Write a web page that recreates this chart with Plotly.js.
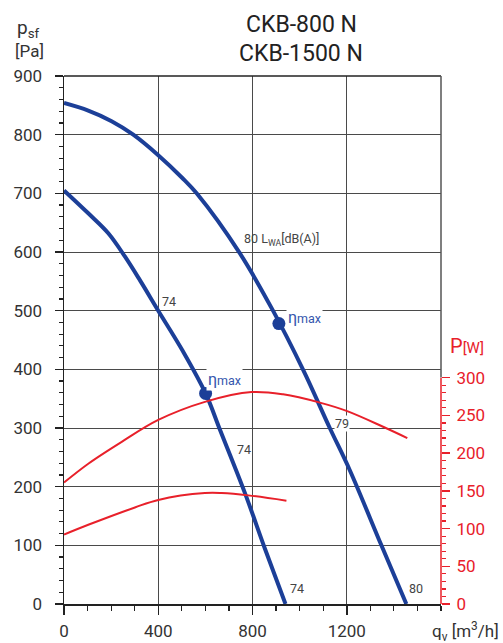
<!DOCTYPE html>
<html><head><meta charset="utf-8">
<script src="https://cdn.plot.ly/plotly-3.0.1.min.js"></script>
<style>html,body{margin:0;padding:0;background:#fff}#chart{width:503px;height:643px}</style>
</head><body><div id="chart"></div>
<script>
// CKB-1500 N pressure curve
const qUpper = [0, 103, 202, 294, 400, 500, 563, 746, 887, 1015, 1128, 1213, 1347, 1453];
const pUpper = [854, 841, 823, 800, 765, 727, 700, 598, 500, 399, 300, 228, 100, 0];
// CKB-800 N pressure curve
const qLower = [0, 103, 188, 259, 322, 400, 506, 601, 662, 768, 852, 940];
const pLower = [705, 666, 632, 592, 552, 500, 430, 359, 297, 189, 95, 0];
// efficiency maximum points
const etaQ = [601, 912];
const etaP = [359, 478];
// power curves [W]
const powUpperQ = [0, 103, 245, 400, 598, 796, 930, 1086, 1199, 1354, 1457];
const powUpperW = [161, 186, 215, 244, 268, 281, 278, 267, 256, 235, 220];
const powLowerQ = [0, 103, 301, 400, 598, 669, 782, 944];
const powLowerW = [92, 105, 128, 138, 147, 147, 144, 137];
// ticks
const xTicks = [0, 400, 800, 1200];
const yTicks = [0, 100, 200, 300, 400, 500, 600, 700, 800, 900];
const y2Ticks = [0, 50, 100, 150, 200, 250, 300];
const y2Minor = [];
for (let v = 0; v <= 300; v += 10) if (v % 50) y2Minor.push(v);

const BLUE = '#1c3f98', RED = '#e8202a', TXT = '#333333', GRID = '#4a4a4a';
const FONT = 'Roboto, "DejaVu Sans", sans-serif';

const traces = [
  {x: qUpper, y: pUpper, mode: 'lines', line: {color: BLUE, width: 4, shape: 'spline', smoothing: 1}, hoverinfo: 'skip'},
  {x: qLower, y: pLower, mode: 'lines', line: {color: BLUE, width: 4, shape: 'spline', smoothing: 1}, hoverinfo: 'skip'},
  {x: powUpperQ, y: powUpperW, yaxis: 'y2', mode: 'lines', line: {color: RED, width: 2, shape: 'spline', smoothing: 1}, hoverinfo: 'skip'},
  {x: powLowerQ, y: powLowerW, yaxis: 'y2', mode: 'lines', line: {color: RED, width: 2, shape: 'spline', smoothing: 1}, hoverinfo: 'skip'},
  {x: etaQ, y: etaP, mode: 'markers', marker: {color: BLUE, size: 13}, hoverinfo: 'skip'}
];

function ann(x, y, text, opts) {
  return Object.assign({x: x, y: y, xref: 'x', yref: 'y', text: text, showarrow: false,
    xanchor: 'left', yanchor: 'middle', font: {family: FONT, size: 12.5, color: '#444'}}, opts || {});
}
const annotations = [
  ann(756, 622, '80 L<sub>WA</sub>[dB(A)]', {font: {family: FONT, size: 12.5, color: '#444'}}),
  ann(408, 515, '74'),
  ann(727, 264, '74'),
  ann(952, 26, '74'),
  ann(1146, 308, '79', {bgcolor: '#fff', borderpad: 0}),
  ann(1457, 27, '80'),
  ann(944, 489, '<span style="font-size:16px">η</span>max', {bgcolor: '#fff', borderpad: 1, font: {family: FONT, size: 12.5, color: '#3556ad'}}),
  ann(603, 382, '<span style="font-size:16px">η</span>max', {bgcolor: '#fff', borderpad: 1, font: {family: FONT, size: 12.5, color: '#3556ad'}}),
  // titles
  {xref: 'paper', yref: 'paper', x: (301 - 64) / 377, y: (604 - 24) / 528, text: 'CKB-800 N', showarrow: false,
   xanchor: 'center', yanchor: 'middle', font: {family: FONT, size: 23, color: '#222'}},
  {xref: 'paper', yref: 'paper', x: (301 - 64) / 377, y: (604 - 53) / 528, text: 'CKB-1500 N', showarrow: false,
   xanchor: 'center', yanchor: 'middle', font: {family: FONT, size: 23, color: '#222'}},
  {xref: 'paper', yref: 'paper', x: (15 - 64) / 377, y: (604 - 28) / 528, text: 'p<sub>sf</sub>', showarrow: false,
   xanchor: 'left', yanchor: 'middle', font: {family: FONT, size: 19, color: TXT}},
  {xref: 'paper', yref: 'paper', x: (13 - 64) / 377, y: (604 - 51) / 528, text: '[Pa]', showarrow: false,
   xanchor: 'left', yanchor: 'middle', font: {family: FONT, size: 17, color: TXT}},
  {xref: 'paper', yref: 'paper', x: (501 - 64) / 377, y: (604 - 631) / 528, text: 'q<sub>v</sub> [m<sup>3</sup>/h]', showarrow: false,
   xanchor: 'right', yanchor: 'middle', font: {family: FONT, size: 17, color: TXT}},
  {xref: 'paper', yref: 'paper', x: (448 - 64) / 377, y: (604 - 346) / 528, text: 'P<span style="font-size:15px">[W]</span>', showarrow: false,
   xanchor: 'left', yanchor: 'middle', font: {family: FONT, size: 20, color: RED}}
];

const shapes = [
  {type: 'line', xref: 'paper', yref: 'paper', x0: 0, x1: 1, y0: 1, y1: 1, line: {color: '#222', width: 1.5}},
  {type: 'line', xref: 'paper', yref: 'paper', x0: 1, x1: 1, y0: 1, y1: (604 - 377.5) / 528, line: {color: '#555', width: 1.5}},
  {type: 'line', xref: 'paper', yref: 'y2', x0: 1, x1: 1, y0: 0, y1: 300, line: {color: RED, width: 1.5}}
];

const layout = {
  width: 503, height: 643,
  margin: {l: 64, r: 62, t: 76, b: 39},
  paper_bgcolor: '#fff', plot_bgcolor: '#fff',
  showlegend: false,
  font: {family: FONT, color: TXT, size: 17},
  xaxis: {range: [0, 1600], tickmode: 'array', tickvals: xTicks, ticktext: xTicks.map(String),
    showgrid: true, gridcolor: GRID, gridwidth: 1, zeroline: false,
    showline: true, linecolor: '#222', linewidth: 1.5,
    ticks: 'outside', ticklen: 9, tickwidth: 1.5, tickcolor: '#222',
    minor: {dtick: 100, tick0: 0, ticks: 'outside', ticklen: 5, tickwidth: 1.2, tickcolor: '#222', showgrid: false},
    tickfont: {family: FONT, size: 17, color: TXT}, ticklabelstandoff: 2},
  yaxis: {range: [0, 900], tickmode: 'array', tickvals: yTicks, ticktext: yTicks.map(String),
    showgrid: true, gridcolor: GRID, gridwidth: 1, zeroline: false,
    showline: true, linecolor: '#222', linewidth: 1.5,
    ticks: 'outside', ticklen: 8, tickwidth: 1.5, tickcolor: '#222',
    minor: {dtick: 20, tick0: 0, ticks: 'outside', ticklen: 4, tickwidth: 1.2, tickcolor: '#222', showgrid: false},
    tickfont: {family: FONT, size: 17, color: TXT}, ticklabelstandoff: 9},
  yaxis2: {range: [0, 700], overlaying: 'y', side: 'right', tickmode: 'array', tickvals: y2Ticks, ticktext: y2Ticks.map(String),
    showgrid: false, zeroline: false, showline: false,
    ticks: 'outside', ticklen: 8, tickwidth: 1.5, tickcolor: RED,
    minor: {tickmode: 'array', tickvals: y2Minor, ticks: 'outside', ticklen: 4, tickwidth: 1.2, tickcolor: RED, showgrid: false},
    tickfont: {family: FONT, size: 17, color: RED}, ticklabelstandoff: 3},
  annotations: annotations,
  shapes: shapes
};

Plotly.newPlot('chart', traces, layout, {staticPlot: true, displayModeBar: false});
</script>
</body></html>
